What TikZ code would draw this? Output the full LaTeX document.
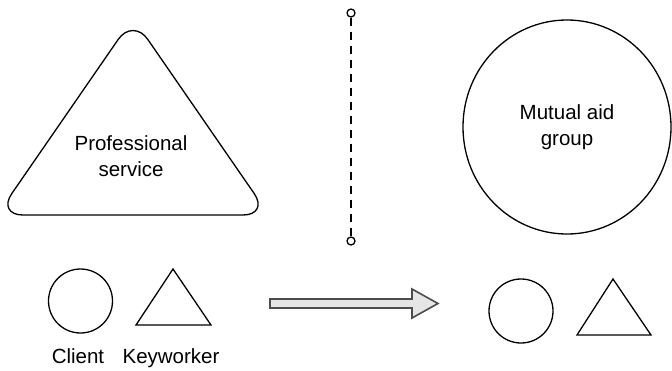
\documentclass[tikz,border=0pt]{standalone}
\usepackage{fontspec}
\usetikzlibrary{shapes.geometric}
\setmainfont{Liberation Sans}
\begin{document}
\begin{tikzpicture}[x=1pt,y=-1pt,
  shapeline/.style={draw=black,line width=1.3pt},
  lbl/.style={font=\fontsize{20.5}{25.5}\selectfont,align=center,inner sep=0pt},
  endcirc/.style={circle,draw=black,line width=1.3pt,fill=white,inner sep=0pt,minimum size=8pt},
  bigarrow/.style={draw=black!70,fill=black!10,line width=1.6pt,line join=miter}]
\useasboundingbox (0,0) rectangle (672,370);
% Professional service triangle
\draw[shapeline,rounded corners=26pt] (133,18) -- (269,215) -- (-3,215) -- cycle;
\node[lbl] (prof) at (131,156) {Professional\\service};
% dashed divider
\node[endcirc] (top) at (351,13) {};
\node[endcirc] (bot) at (351,241) {};
\draw[line width=1.3pt,dash pattern=on 8pt off 6pt] (top) -- (bot);
% Mutual aid group
\node[shapeline,ellipse,minimum width=208pt,minimum height=214pt,inner sep=0pt] (mag) at (567,127) {};
\node[lbl] (magt) at (567,127) {Mutual aid\\group};
% bottom left: client and keyworker
\node[shapeline,circle,minimum size=64pt,inner sep=0pt] (client) at (80.5,301) {};
\draw[shapeline,line join=miter] (136,325) -- (211,325) -- (173,269) -- cycle;
\node[lbl,anchor=base] (clientt) at (78,363) {Client};
\node[lbl,anchor=base] (kwt) at (171,363) {Keyworker};
% arrow
\draw[bigarrow] (270,299) -- (412,299) -- (412,289) -- (438,303.5) -- (412,318) -- (412,308) -- (270,308) -- cycle;
% bottom right
\node[shapeline,circle,minimum size=64pt,inner sep=0pt] (client2) at (521,311) {};
\draw[shapeline,line join=miter] (577,335) -- (651,335) -- (613,279) -- cycle;
\end{tikzpicture}
\end{document}
